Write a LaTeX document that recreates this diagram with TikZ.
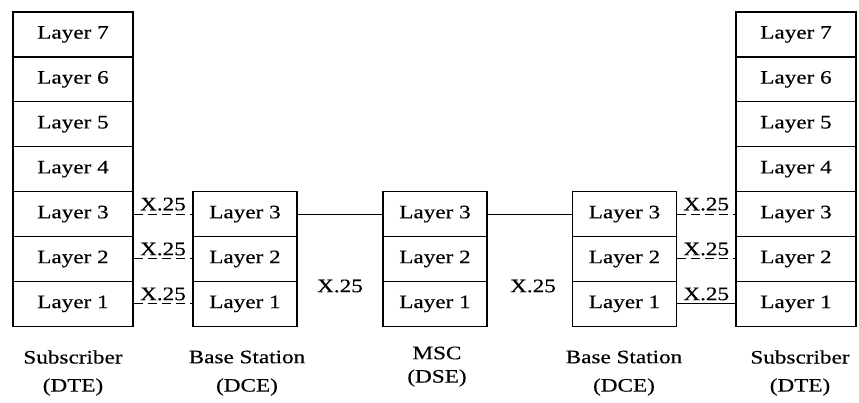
\documentclass[tikz,border=0pt]{standalone}
\usepackage{fontspec}
\setmainfont[FakeStretch=1.22,FakeBold=0.4]{Liberation Serif}
\begin{document}
\begin{tikzpicture}[x=1pt,y=-1pt,
  txt/.style={font=\fontsize{19}{21}\selectfont},
  lay/.style={txt, draw, line width=1.2pt, minimum height=44.9pt, inner sep=0pt},
  widebox/.style={lay, minimum width=120pt},
  narrowbox/.style={lay, minimum width=104pt},
  lbl/.style={txt, inner sep=1pt},
  link/.style={line width=1pt},
  dlink/.style={link, dash pattern=on 9pt off 5pt}]
\useasboundingbox (0,0) rectangle (859,402);
% rows
\foreach \k in {1,...,7}{
  \pgfmathsetmacro{\yy}{12+44.9*(7-\k)+22.45}
  \node[widebox] (sa\k) at (73,\yy) {Layer \k};
  \node[widebox] (sb\k) at (796,\yy) {Layer \k};
}
\foreach \k in {1,2,3}{
  \pgfmathsetmacro{\yy}{12+44.9*(7-\k)+22.45}
  \node[narrowbox] (ba\k) at (245,\yy) {Layer \k};
  \node[narrowbox] (ms\k) at (435,\yy) {Layer \k};
  \node[narrowbox] (bb\k) at (624.5,\yy) {Layer \k};
}
% left links
\draw[dlink] (sa3.east) -- node[lbl, above=2pt] (xa3) {X.25} (ba3.west);
\draw[dlink] (sa2.east) -- node[lbl, above=2pt] (xa2) {X.25} (ba2.west);
\draw[dlink] (sa1.east) -- node[lbl, above=2pt] (xa1) {X.25} (ba1.west);
% middle links
\draw[link] (ba3.east) -- (ms3.west);
\draw[link] (ms3.east) -- (bb3.west);
\node[lbl] (xm1) at (340,286) {X.25};
\node[lbl] (xm2) at (533,286) {X.25};
% right links
\draw[dlink] (bb3.east) -- node[lbl, above=2pt] (xb3) {X.25} (sb3.west);
\draw[dlink] (bb2.east) -- node[lbl, above=2pt] (xb2) {X.25} (sb2.west);
\draw[link] (bb1.east) -- node[lbl, above=2pt] (xb1) {X.25} (sb1.west);
% bottom captions
\node[lbl] (c1a) at (73,357) {Subscriber};
\node[lbl] (c1b) at (73,387) {(DTE)};
\node[lbl] (c2a) at (247,357) {Base Station};
\node[lbl] (c2b) at (247,387) {(DCE)};
\node[lbl] (c3a) at (437,353) {MSC};
\node[lbl] (c3b) at (437,378) {(DSE)};
\node[lbl] (c4a) at (624,357) {Base Station};
\node[lbl] (c4b) at (624,387) {(DCE)};
\node[lbl] (c5a) at (800,357) {Subscriber};
\node[lbl] (c5b) at (800,387) {(DTE)};
\end{tikzpicture}
\end{document}
